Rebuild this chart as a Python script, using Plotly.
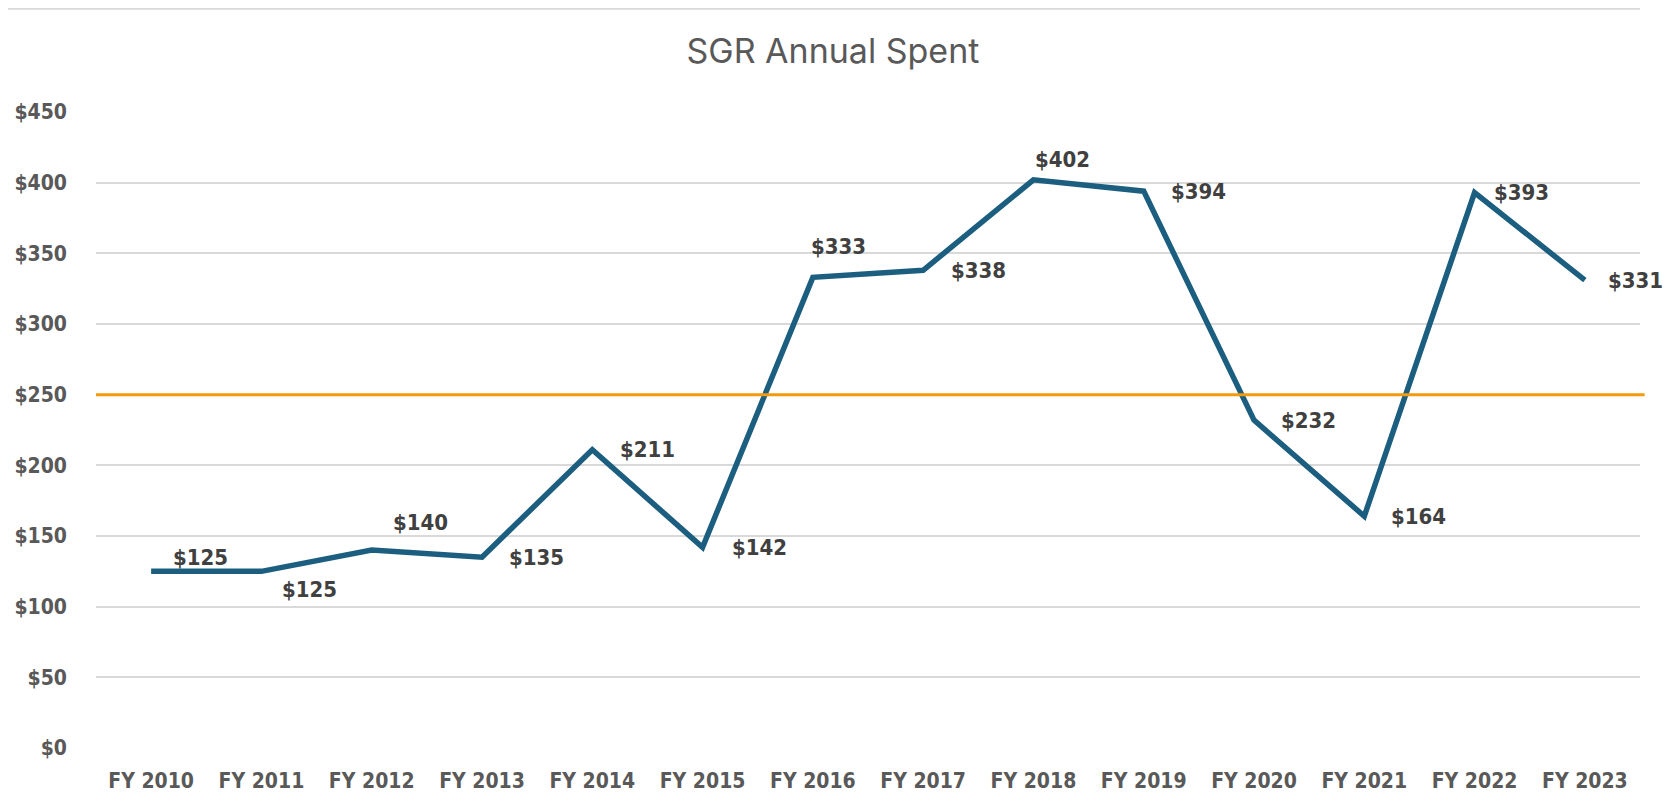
import plotly.graph_objects as go

categories = ["FY 2010", "FY 2011", "FY 2012", "FY 2013", "FY 2014", "FY 2015", "FY 2016",
              "FY 2017", "FY 2018", "FY 2019", "FY 2020", "FY 2021", "FY 2022", "FY 2023"]
spent = [125, 125, 140, 135, 211, 142, 333, 338, 402, 394, 232, 164, 393, 331]
threshold = 250
y_ticks = [0, 50, 100, 150, 200, 250, 300, 350, 400, 450]
y_tick_labels = ["$" + str(v) for v in y_ticks]

# label offsets (pixels) relative to each point
label_dx = [20, 19, 19, 25, 26, 27, -4, 26, 0, 25, 25, 25, 17, 21]
label_dy = [14, -18, 28, 0, 0, 0, 31, 0, 20, 0, 0, 0, 0, 0]

LINE = "#1B5E7F"
ORANGE = "#F39A0E"
GRAY = "#595959"
LABEL = "#404040"
NARROW = "Liberation Sans Narrow, Arial Narrow, DejaVu Sans Condensed, sans-serif"
tick_font = dict(family=NARROW, size=21, color=GRAY, weight="bold")

fig = go.Figure()
fig.add_trace(go.Scatter(x=categories, y=spent, mode="lines",
                         line=dict(color=LINE, width=5.5), showlegend=False,
                         hoverinfo="x+y"))

for c, v, dx, dy in zip(categories, spent, label_dx, label_dy):
    fig.add_annotation(x=c, y=v, xref="x", yref="y", text="$" + str(v), showarrow=False,
                       xanchor="left", yanchor="middle", xshift=dx, yshift=dy,
                       font=dict(family=NARROW, size=22, color=LABEL, weight="bold"))

fig.add_shape(type="line", xref="paper", yref="y", x0=0, x1=1.003, y0=threshold, y1=threshold,
              line=dict(color=ORANGE, width=3))

# faint top border line (spreadsheet frame)
fig.add_shape(type="line", xref="paper", yref="paper", x0=-0.057, x1=1.0, y0=1.163, y1=1.163,
              line=dict(color="#D9D9D9", width=3))

fig.update_layout(
    width=1675, height=794,
    margin=dict(l=88, r=43, t=104, b=54),
    paper_bgcolor="white", plot_bgcolor="white",
    title=dict(text="SGR Annual Spent", x=0.4925, xref="container", xanchor="center",
               y=0.946, yanchor="middle",
               font=dict(family="Inter, Roboto, sans-serif", size=34, color=GRAY)),
    xaxis=dict(type="category", range=[-0.5, 13.5], showgrid=False, showline=False,
               ticks="", tickfont=tick_font, ticklabelstandoff=18, automargin=False),
    yaxis=dict(range=[0, 450], tickvals=y_ticks, ticktext=y_tick_labels,
               showgrid=True, gridcolor="#D9D9D9", gridwidth=1.5, zeroline=False,
               showline=False, ticks="", tickfont=tick_font, ticklabelstandoff=28,
               automargin=False),
)

fig.write_html("out.html")
